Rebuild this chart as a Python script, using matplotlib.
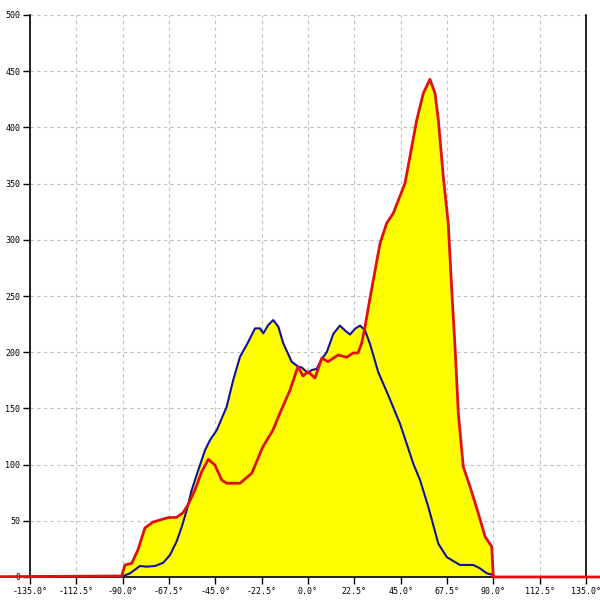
import matplotlib.pyplot as plt
from matplotlib.ticker import FuncFormatter

# red series (angle in degrees, value)
red_deg = [-180, -90.5, -88.9, -85.6, -82.6, -79.2, -75.3, -71.9, -68.0, -63.8, -60.7,
           -58.3, -54.9, -51.6, -48.4, -45.2, -41.9, -39.5, -33.0, -27.3, -21.9,
           -17.0, -13.6, -8.7, -4.9, -2.4, 0.0, 3.4, 6.7, 9.7, 14.6, 18.8, 21.9,
           24.3, 26.1, 27.7, 30.1, 35.0, 38.2, 41.4, 47.1, 49.5, 52.8, 56.0, 59.2,
           61.7, 63.3, 65.7, 68.1, 69.8, 71.4, 73.0, 75.4, 78.7, 82.7, 86.0, 89.2,
           90.0, 180]
red_val = [0, 0.9, 10.7, 12.2, 24, 43.6, 48.9, 50.7, 52.8, 53.1, 57.2,
           64, 77.4, 93.7, 104.7, 99.6, 86.3, 83.4, 83.4, 92.3, 115.9,
           130.8, 145.9, 166.4, 187.1, 178.8, 182.7, 177, 194.8, 191.5, 197.5, 195.5, 199.3,
           199.3, 208.2, 222.7, 248, 296.9, 314.7, 323.6, 350.3, 373.9, 406.6, 430.3, 442.8,
           430.3, 406.6, 356.1, 314.7, 255.3, 204.9, 145.6, 98.1, 80.3, 56.7, 35.9, 27,
           0, 0]

# blue series
blue_deg = [-180, -90.5, -86.4, -81.6, -78.3, -74.3, -70.3, -67.0, -63.8, -61.3, -58.9,
            -56.5, -53.3, -50.0, -47.6, -44.3, -39.5, -36.3, -33.0, -29.8, -25.7,
            -23.3, -21.7, -19.3, -16.9, -14.4, -12.0, -7.9, -4.7, -3.1, 0.1, 1.8,
            4.2, 6.7, 9.1, 12.3, 15.5, 18.0, 20.4, 22.8, 25.3, 27.7, 30.1, 34.1,
            39.0, 44.7, 51.1, 54.4, 58.4, 63.3, 67.4, 73.8, 80.3, 83.5, 86.8, 90.0,
            90.5, 180]
blue_val = [0, 0.3, 3.3, 9.8, 9.2, 9.8, 12.7, 19.6, 31.6, 44.7, 59.4,
            77.2, 95, 112.8, 121.8, 130.7, 151.4, 175.3, 196, 206.4, 221.2,
            221.2, 216.8, 224.2, 228.6, 222.7, 207.9, 191.5, 187.1, 186.5, 181.2, 184.2,
            185.1, 194, 200, 216.3, 223.7, 219.3, 215.7, 220.8, 223.7, 219.3, 207.4, 182.3,
            161.6, 136.3, 101, 86.3, 62.6, 29.6, 17.7, 10.7, 10.7, 7.7, 3.3, 1.8,
            0, 0]

x_ticks = [-135 + 22.5 * i for i in range(13)]
y_ticks = list(range(0, 501, 50))

fig = plt.figure(figsize=(6, 6), dpi=100)
ax = fig.add_axes([30 / 600, 1 - 577 / 600, 556 / 600, 562 / 600])

ax.fill_between(blue_deg, blue_val, color='#ffff00', linewidth=0, zorder=1)
ax.fill_between(red_deg, red_val, color='#ffff00', linewidth=0, zorder=1)
ax.plot(blue_deg, blue_val, color='#1010a0', linewidth=1.5, zorder=3)
ax.plot(red_deg, red_val, color='#e01010', linewidth=2, zorder=4, clip_on=False)

ax.set_xlim(-135, 135)
ax.set_ylim(0, 500)
ax.set_xticks(x_ticks)
ax.set_yticks(y_ticks)
ax.xaxis.set_major_formatter(FuncFormatter(lambda v, p: f'{v:.1f}°'))

ax.grid(True, color='#c0c0c0', linestyle=(0, (3, 3)), linewidth=0.8, zorder=0)
ax.set_axisbelow(True)

ax.spines['top'].set_visible(False)
for s in ['left', 'right', 'bottom']:
    ax.spines[s].set_color('black')
    ax.spines[s].set_linewidth(1.2)

ax.tick_params(direction='out', length=5, width=1, labelsize=6, pad=2)
for lab in ax.get_xticklabels() + ax.get_yticklabels():
    lab.set_family('DejaVu Sans Mono')

plt.savefig('out.png', dpi=100)
